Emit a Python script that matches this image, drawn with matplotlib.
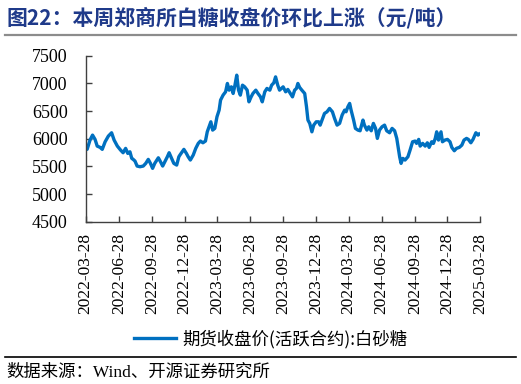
import numpy as np
import pandas as pd
import matplotlib
matplotlib.use("Agg")
import matplotlib.pyplot as plt
import matplotlib.dates as mdates
from matplotlib.lines import Line2D

# day offsets from 2022-03-28 and sugar futures close (yuan/ton)
days = [0, 4, 12, 19, 26, 32, 40, 46, 54, 63, 72, 79, 88, 97, 104, 111, 117, 123, 128, 132,
        137, 143, 151, 160, 167, 174, 180, 186, 192, 202, 208, 214, 220, 227, 232, 239, 245, 253, 259,
        262, 273, 280, 285, 291, 299, 306, 313, 319, 326, 333, 338, 343, 348, 353, 359, 365, 371,
        375, 382, 389, 394, 399, 405, 410, 415, 420, 425, 430, 436, 442, 449, 454, 460, 465, 473,
        479, 486, 491, 498, 504, 512, 517, 523, 528, 534, 539, 549, 556, 562, 569, 575, 581, 586,
        590, 595, 601, 609, 614, 618, 623, 629, 634, 641, 648, 652, 658, 664, 671, 678, 686, 692,
        699, 706, 713, 720, 724, 729, 734, 738, 745, 750, 757, 763, 771, 775, 782, 787, 794, 800,
        806, 811, 817, 824, 831, 837, 845, 852, 859, 865, 870, 873, 877, 882, 888, 896, 902, 909,
        916, 920, 926, 930, 937, 944, 950, 955, 962, 967, 972, 976, 981, 988, 992, 999, 1006, 1013,
        1018, 1025, 1031, 1039, 1046, 1052, 1059, 1064, 1071, 1077, 1085, 1091, 1094]
close = [5843, 5807, 5975, 6065, 5987, 5866, 5843, 5807, 5944, 6047, 6107, 5975, 5866, 5794, 5746,
         5825, 5734, 5763, 5644, 5626, 5596, 5505, 5493, 5505, 5554, 5626, 5554, 5464, 5554, 5655,
         5583, 5505, 5583, 5673, 5746, 5644, 5554, 5523, 5673,
         5704, 5807, 5734, 5673, 5614, 5704, 5825, 5915, 5957, 5926, 5957, 6124, 6215, 6305, 6155,
         6186, 6395, 6516, 6697, 6787, 6847, 6998, 6877, 6937, 6817, 6967, 7148, 6877, 6787, 6967,
         6937, 6877, 6666, 6756, 6817, 6877, 6817, 6756, 6666, 6847, 6908, 6877, 6967, 7009, 7117,
         6967, 6877, 6937, 6847, 6890, 6817, 6756, 6877, 6908, 6998, 6926, 6877, 6817, 6576, 6336,
         6276, 6124, 6245, 6305, 6305, 6245, 6348, 6456, 6486, 6547, 6486, 6366, 6245, 6276, 6426,
         6516, 6486, 6576, 6637, 6516, 6336, 6186, 6155, 6143, 6336, 6245, 6155, 6215, 6143, 6276,
         6186, 6005, 6155, 6215, 6245, 6143, 6107, 6186, 6143, 6005, 5794, 5673, 5554, 5644, 5614,
         5673, 5794, 5944, 5957, 5915, 5987, 5866, 5915, 5866, 5926, 5843, 5944, 5915, 6005, 6124,
         5975, 6124, 5944, 5975, 5987, 5944, 5843, 5782, 5825, 5843, 5884, 5975, 6005, 5987, 5926,
         5987, 6107, 6065, 6083]
tick_labels = ["2022-03-28", "2022-06-28", "2022-09-28", "2022-12-28", "2023-03-28",
               "2023-06-28", "2023-09-28", "2023-12-28", "2024-03-28", "2024-06-28",
               "2024-09-28", "2024-12-28", "2025-03-28"]
y_ticks = [4500, 5000, 5500, 6000, 6500, 7000, 7500]

title = "图22：本周郑商所白糖收盘价环比上涨（元/吨）"
series_name = "期货收盘价(活跃合约):白砂糖"
source = "数据来源：Wind、开源证券研究所"

cjk = ["Noto Sans CJK SC", "DejaVu Sans"]
serif = ["Liberation Serif", "Noto Sans CJK SC"]

dates = pd.Timestamp("2022-03-28") + pd.to_timedelta(days, unit="D")
ticks = pd.to_datetime(tick_labels)

fig = plt.figure(figsize=(5.21, 3.84), dpi=100)
ax = fig.add_axes([0.1645, 0.4227, 0.7565, 0.4323])

blue = "#0070C0"
ax.plot(dates, close, color=blue, lw=2.4, solid_joinstyle="round")

ax.set_xlim(ticks[0], ticks[-1])
ax.set_ylim(4500, 7500)
ax.set_yticks(y_ticks)
ax.set_yticklabels([str(v) for v in y_ticks], family=serif, fontsize=13)
ax.set_xticks(ticks)
ax.set_xticklabels(tick_labels, rotation=90, family=serif, fontsize=12.5)
ax.tick_params(axis="both", direction="in", length=4, width=1, color="#404040")
ax.tick_params(axis="y", pad=13)
ax.tick_params(axis="x", pad=8)
for s in ["top", "right"]:
    ax.spines[s].set_visible(False)
for s in ["left", "bottom"]:
    ax.spines[s].set_color("#404040")
    ax.spines[s].set_linewidth(1)

fig.text(0.013, 0.955, title, family=cjk, fontsize=15, fontweight="bold",
         color="#1F3A8A", va="center", ha="left")
fig.add_artist(Line2D([0.01, 0.99], [0.909, 0.909], color="#8C8C8C", lw=1.6))

handle = Line2D([], [], color=blue, lw=2.4)
fig.legend([handle], [series_name], loc="center", bbox_to_anchor=(0.52, 0.117),
           frameon=False, prop={"family": cjk, "size": 12.5}, handlelength=2.4,
           handletextpad=0.4)

fig.add_artist(Line2D([0.01, 0.99], [0.07, 0.07], color="black", lw=1.2))
fig.text(0.013, 0.031, source, family=serif, fontsize=12.5, va="center", ha="left")

fig.savefig("out.png", dpi=100)
